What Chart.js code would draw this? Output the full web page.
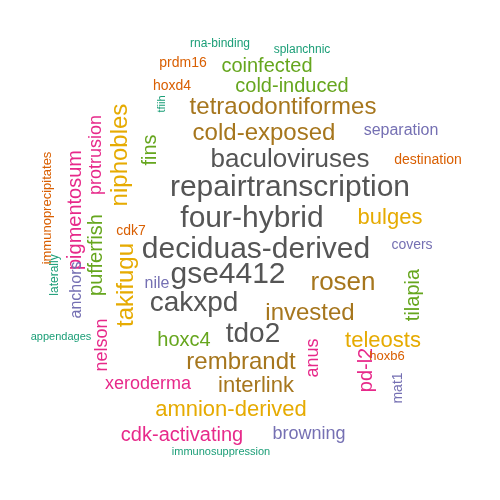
<!DOCTYPE html>
<html><head><meta charset="utf-8">
<script src="https://cdn.jsdelivr.net/npm/chart.js@4"></script>
<style>html,body{margin:0;padding:0;background:#fff}#w{width:500px;height:500px}</style>
</head><body><div id="w"><canvas id="c"></canvas></div>
<script>
const words=["repairtranscription","deciduas-derived","four-hybrid","baculoviruses","gse4412","cakxpd","tdo2","tetraodontiformes","cold-exposed","invested","rosen","rembrandt","interlink","niphobles","bulges","teleosts","amnion-derived","takifugu","cold-induced","coinfected","fins","pufferfish","hoxc4","tilapia","pigmentosum","protrusion","nelson","xeroderma","cdk-activating","anus","pd-l2","separation","covers","anchors","nile","browning","mat1","prdm16","hoxd4","destination","cdk7","hoxb6","immunoprecipitates","rna-binding","splanchnic","tfiih","laterally","appendages","immunosuppression"];
const xs=[290,256,252,290,228,194,253,283,264,310,343,241,256,120,390,383,231,126,292,267,150,96,184,413,75,96,102,148,182,313,366,401,412,77,157,309,398,183,172,428,131,387,47,220,302,162,55,61,221];
const ys=[188,250,219,160,275,303,334,107,133,313,283,362,386,155,218,341,410,285,86,66,150,255,340,295,210,155,345,384,435,358,370,131,245,290,284,434,388,63,86,160,231,356,208,44,50,104,275,337,452];
const sizes=[30,30,30,26,30,28,28,24,24,24,26,24,22,24,22,22,22,24,20,20,20,20,20,20,20,18,18,18,20,18,20,16,14,16,16,18,14,14,14,14,14,13,13,12,12,11,12,11,11];
const vertical=[0,0,0,0,0,0,0,0,0,0,0,0,0,1,0,0,0,1,0,0,1,1,0,1,1,1,1,0,0,1,1,0,0,1,0,0,1,0,0,0,0,0,1,0,0,1,1,0,0];
const groups=[0,0,0,0,0,0,0,1,1,1,1,1,1,2,2,2,2,2,3,3,3,3,3,3,4,4,4,4,4,4,4,5,5,5,5,5,5,6,6,6,6,6,6,7,7,7,7,7,7];
const palette=["#555555","#A6761D","#E6AB02","#66A61E","#E7298A","#7570B3","#D95F02","#1B9E77"];
const textPlugin={id:'wc',afterDatasetsDraw(chart){
  const ctx=chart.ctx,sx=chart.scales.x,sy=chart.scales.y;
  words.forEach((w,i)=>{
    ctx.save();
    ctx.translate(sx.getPixelForValue(xs[i]),sy.getPixelForValue(ys[i]));
    if(vertical[i])ctx.rotate(-Math.PI/2);
    ctx.font=sizes[i]+'px "Liberation Sans", Arial, sans-serif';
    ctx.fillStyle=palette[groups[i]];
    ctx.textAlign='center';ctx.textBaseline='middle';
    ctx.fillText(w,0,0);
    ctx.restore();
  });
}};
new Chart(document.getElementById('c'),{
  type:'scatter',
  data:{datasets:[{data:xs.map((x,i)=>({x,y:ys[i]})),pointRadius:0}]},
  options:{responsive:true,maintainAspectRatio:false,animation:false,
    layout:{padding:0},
    plugins:{legend:{display:false},tooltip:{enabled:false}},
    scales:{x:{type:'linear',min:0,max:500,display:false},
            y:{type:'linear',min:0,max:500,reverse:true,display:false}}},
  plugins:[textPlugin]
});
</script></body></html>
